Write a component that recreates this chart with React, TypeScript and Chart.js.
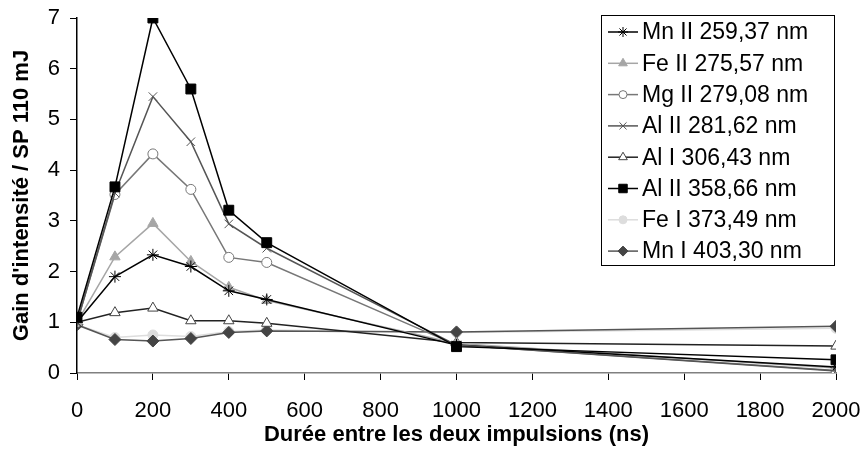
import React, { useEffect, useRef } from "react";
import { Chart, registerables } from "chart.js";
import { drawPoint } from "chart.js/helpers";

Chart.register(...registerables);

const delays = [0, 100, 200, 300, 400, 500, 1000, 2000];
const seriesNames = [
  "Mn II 259,37 nm",
  "Fe II 275,57 nm",
  "Mg II 279,08 nm",
  "Al II 281,62 nm",
  "Al I 306,43 nm",
  "Al II 358,66 nm",
  "Fe I 373,49 nm",
  "Mn I 403,30 nm",
];
const mnII259 = [1.0, 1.9, 2.33, 2.1, 1.62, 1.45, 0.55, 0.12];
const feII275 = [1.0, 2.29, 2.95, 2.2, 1.69, 1.43, 0.58, 0.1];
const mgII279 = [1.0, 3.52, 4.32, 3.62, 2.28, 2.18, 0.55, 0.05];
const alII281 = [1.0, 3.55, 5.45, 4.56, 2.94, 2.46, 0.55, 0.04];
const alI306 = [1.0, 1.19, 1.28, 1.03, 1.03, 0.98, 0.6, 0.53];
const alII358 = [1.1, 3.67, 7.0, 5.6, 3.21, 2.57, 0.52, 0.26];
const feI373 = [0.95, 0.7, 0.75, 0.72, 0.82, 0.85, 0.8, 0.88];
const mnI403 = [0.95, 0.66, 0.63, 0.68, 0.8, 0.83, 0.81, 0.92];
const seriesValues = [mnII259, feII275, mgII279, alII281, alI306, alII358, feI373, mnI403];

const styles = [
  { line: "#000000", fill: "#000000", border: "#000000", point: "star", r: 6, order: 2 },
  { line: "#a6a6a6", fill: "#a6a6a6", border: "#a6a6a6", point: "triangle", r: 6, order: 3 },
  { line: "#777777", fill: "#ffffff", border: "#777777", point: "circle", r: 5, order: 4 },
  { line: "#555555", fill: "#555555", border: "#555555", point: "crossRot", r: 6, order: 1 },
  { line: "#222222", fill: "#ffffff", border: "#444444", point: "triangle", r: 6, order: 5 },
  { line: "#000000", fill: "#000000", border: "#000000", point: "rect", r: 7, order: 0 },
  { line: "#dddddd", fill: "#dddddd", border: "#dddddd", point: "circle", r: 5, order: 7 },
  { line: "#555555", fill: "#444444", border: "#444444", point: "rectRot", r: 6, order: 6 },
];

const SANS = "Arial, 'Liberation Sans', sans-serif";

const legendPlugin = {
  id: "boxLegend",
  afterDraw(chart: any) {
    const ctx = chart.ctx;
    const bx = 601, by = 15, bw = 233, bh = 250;
    ctx.save();
    ctx.fillStyle = "#ffffff";
    ctx.fillRect(bx, by, bw, bh);
    ctx.strokeStyle = "#000000";
    ctx.lineWidth = 1;
    ctx.strokeRect(bx + 0.5, by + 0.5, bw, bh);
    seriesNames.forEach((name, i) => {
      const s = styles[i];
      const cy = 32 + i * 31.3;
      ctx.strokeStyle = s.line;
      ctx.lineWidth = 1.5;
      ctx.beginPath();
      ctx.moveTo(608, cy);
      ctx.lineTo(638, cy);
      ctx.stroke();
      ctx.fillStyle = s.fill;
      ctx.strokeStyle = s.border;
      ctx.lineWidth = 1;
      drawPoint(ctx, { pointStyle: s.point, radius: s.r - 1, rotation: 0, borderWidth: 1 } as any, 623, cy);
      ctx.fillStyle = "#000000";
      ctx.font = "23px " + SANS;
      ctx.textBaseline = "middle";
      ctx.textAlign = "left";
      ctx.fillText(name, 642, cy + 1);
    });
    ctx.restore();
  },
};

export default function App() {
  const ref = useRef<HTMLCanvasElement | null>(null);
  useEffect(() => {
    document.body.style.margin = "0";
    const canvas = ref.current!;
    const chart = new Chart(canvas, {
      type: "line",
      data: {
        datasets: seriesNames.map((name, i) => {
          const s = styles[i];
          return {
            label: name,
            data: delays.map((d, j) => ({ x: d, y: seriesValues[i][j] })),
            borderColor: s.line,
            borderWidth: 1.5,
            backgroundColor: s.fill,
            pointBackgroundColor: s.fill,
            pointBorderColor: s.border,
            pointBorderWidth: 1,
            pointStyle: s.point as any,
            pointRadius: s.r,
            tension: 0,
            order: s.order,
          };
        }),
      },
      options: {
        responsive: false,
        animation: false,
        layout: { padding: { top: 18, right: 28, left: 0, bottom: 0 } },
        plugins: { legend: { display: false }, tooltip: { enabled: false } },
        scales: {
          x: {
            type: "linear",
            min: 0,
            max: 2000,
            ticks: {
              stepSize: 200,
              color: "#000",
              font: { family: SANS, size: 22 },
              padding: 18,
              maxRotation: 0,
              callback: (v: any) => String(v),
            },
            grid: { display: true, drawOnChartArea: false, drawTicks: true, tickLength: 7, color: "#000" },
            border: { color: "#808080", width: 1.5 },
            title: {
              display: true,
              text: "Durée entre les deux impulsions (ns)",
              color: "#000",
              font: { family: SANS, size: 22, weight: "bold" },
              padding: { top: 0, bottom: 5 },
            },
            afterFit: (scale: any) => {
              scale.height = 80;
              scale.paddingLeft = 0;
              scale.paddingRight = 0;
            },
          },
          y: {
            min: 0,
            max: 7,
            ticks: {
              stepSize: 1,
              color: "#000",
              font: { family: SANS, size: 22 },
              padding: 10,
              callback: (v: any) => String(v),
            },
            grid: { display: true, drawOnChartArea: false, drawTicks: true, tickLength: 7, color: "#000" },
            border: { color: "#000", width: 1.5 },
            title: {
              display: true,
              text: "Gain d'intensité / SP 110 mJ",
              color: "#000",
              font: { family: SANS, size: 22, weight: "bold" },
              padding: { top: 9, bottom: 0 },
            },
            afterFit: (scale: any) => {
              scale.width = 77;
              scale.paddingTop = 0;
              scale.paddingBottom = 0;
            },
          },
        },
      },
      plugins: [legendPlugin],
    });
    return () => chart.destroy();
  }, []);
  return (
    <div style={{ width: 864, height: 453 }}>
      <canvas ref={ref} width={864} height={453} />
    </div>
  );
}
